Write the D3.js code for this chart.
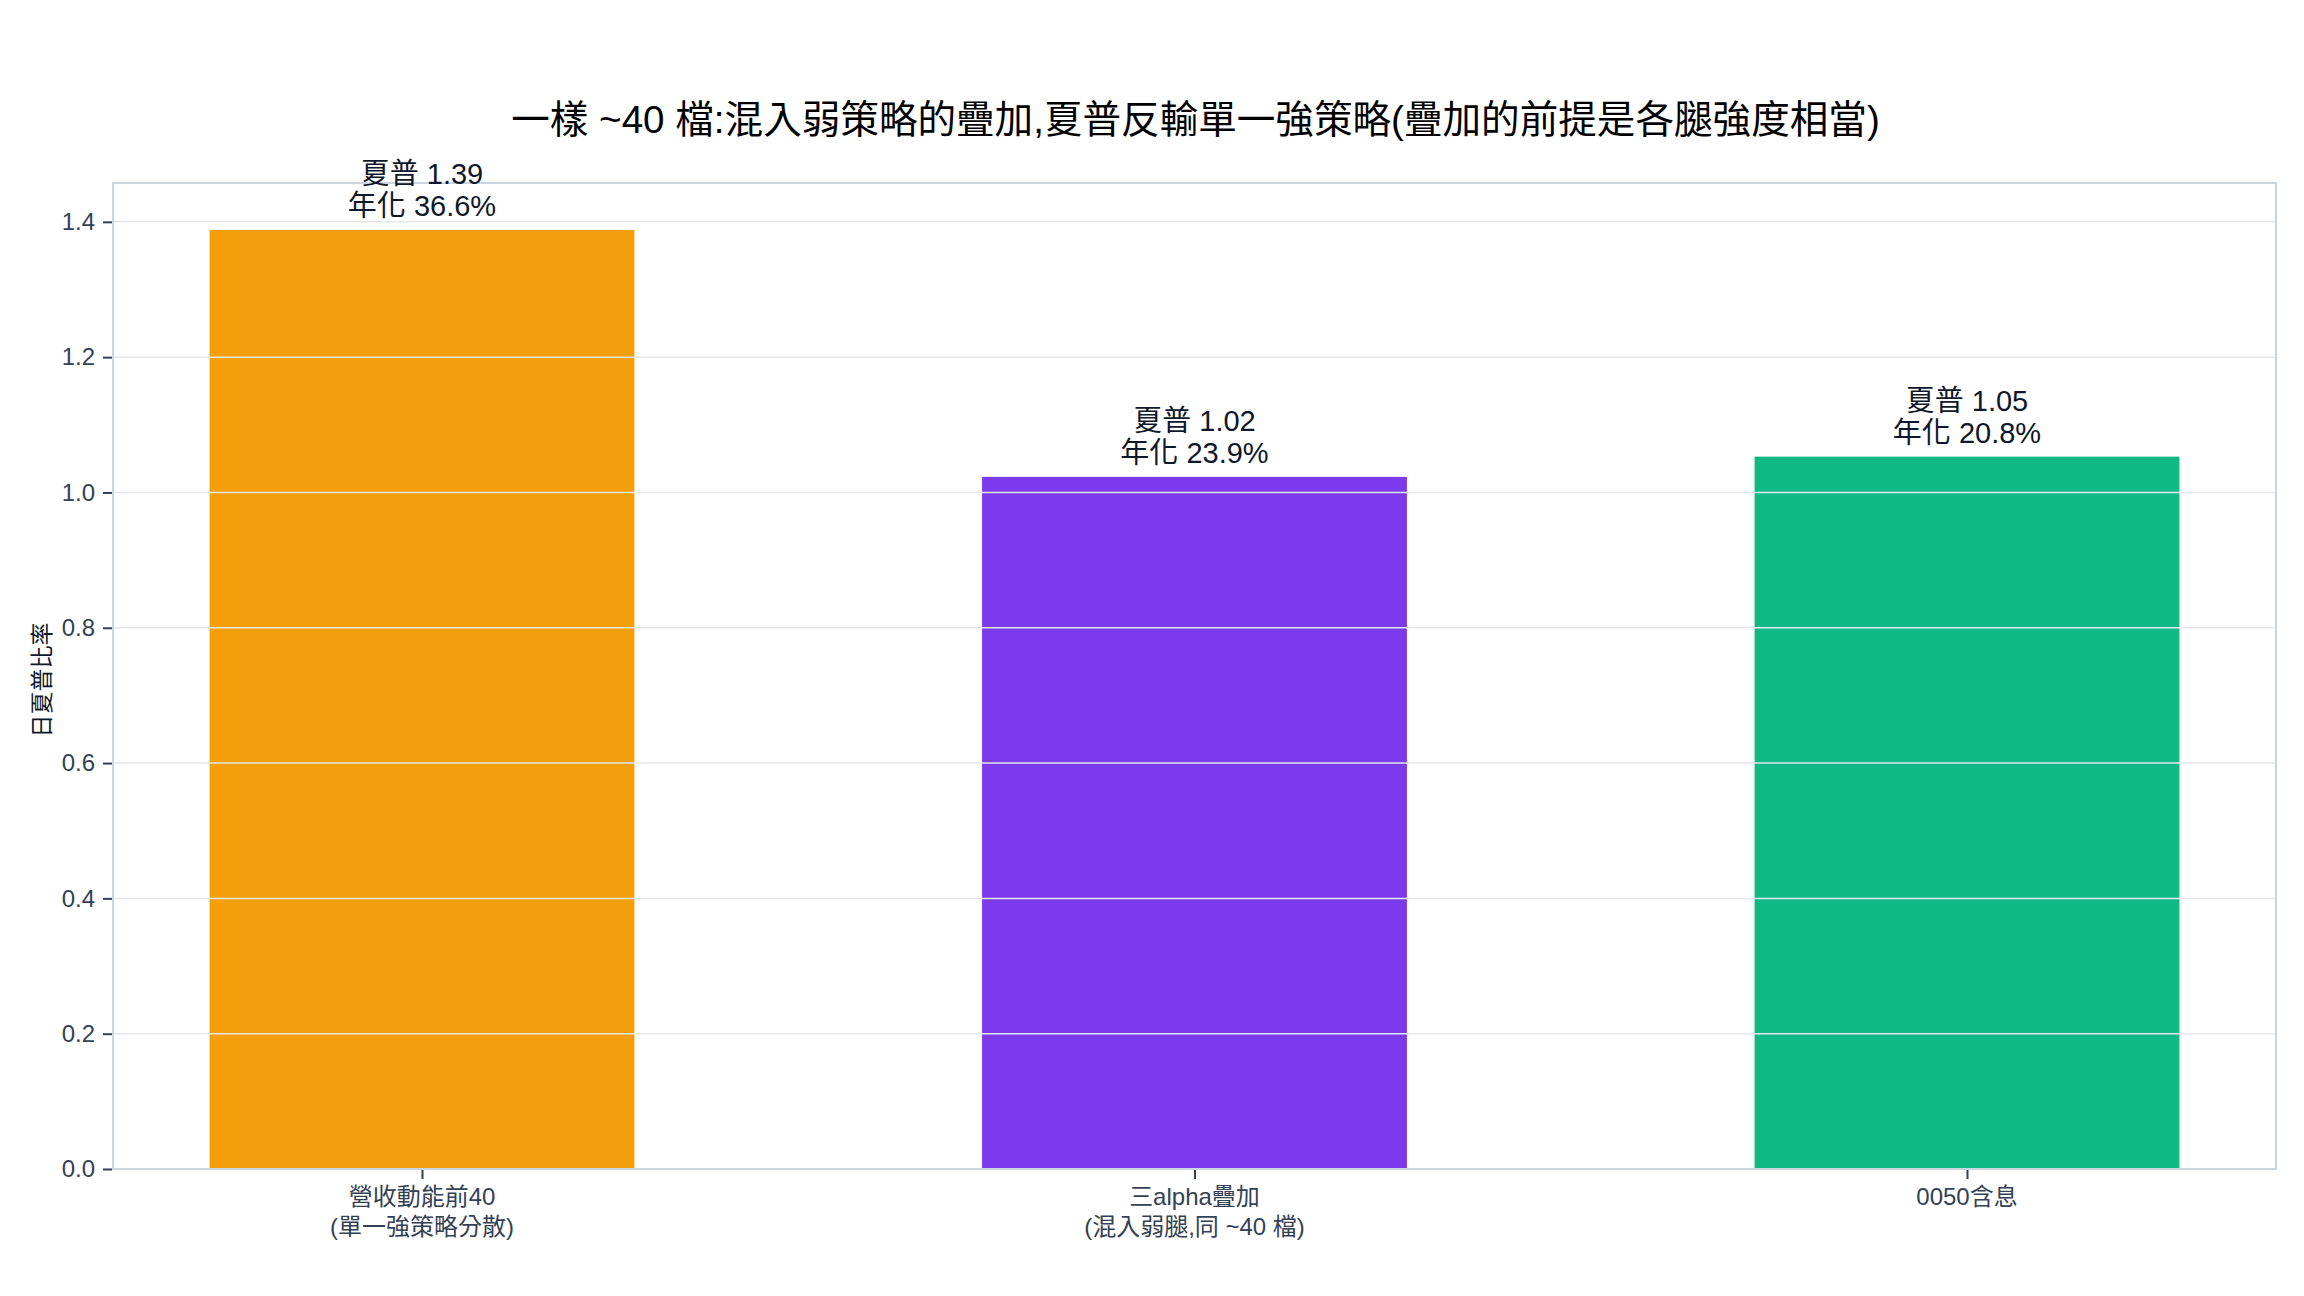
<!DOCTYPE html>
<html>
<head>
<meta charset="utf-8">
<script src="https://cdn.jsdelivr.net/npm/d3@7"></script>
<style>
  body { margin: 0; background: #fff; }
  text { font-family: "Liberation Sans", Arial, "Noto Sans CJK TC", sans-serif; }
</style>
</head>
<body>
<script>
// data
var labelLine1 = ["營收動能前40", "三alpha疊加", "0050含息"];
var labelLine2 = ["(單一強策略分散)", "(混入弱腿,同 ~40 檔)", ""];
var sharpe = [1.388, 1.023, 1.053];
var annual = [36.6, 23.9, 20.8];
var colors = ["#f59e0b", "#7c3aed", "#10b981"];
var yTicks = [0.0, 0.2, 0.4, 0.6, 0.8, 1.0, 1.2, 1.4];
var titleText = "一樣 ~40 檔:混入弱策略的疊加,夏普反輸單一強策略(疊加的前提是各腿強度相當)";
var yLabel = "日夏普比率";

var W = 2304, H = 1296;
var plotL = 113, plotR = 2276, plotT = 183, plotB = 1169;

var svg = d3.select("body").append("svg")
  .attr("width", W).attr("height", H);

var x = d3.scaleLinear().domain([-0.4, 2.4]).range([plotL, plotR]);
var y = d3.scaleLinear().domain([0, d3.max(sharpe) * 1.05]).range([plotB, plotT]);
var barW = 0.55;

var data = sharpe.map(function(v, i){ return {i: i, v: v, a: annual[i]}; });

// bars
svg.append("g").selectAll("rect")
  .data(data)
  .enter().append("rect")
  .attr("x", function(d){ return x(d.i - barW/2); })
  .attr("width", function(d){ return x(barW) - x(0); })
  .attr("y", function(d){ return y(d.v); })
  .attr("height", function(d){ return y(0) - y(d.v); })
  .attr("fill", function(d){ return colors[d.i]; });

// grid on top of bars
svg.append("g").selectAll("line")
  .data(yTicks)
  .enter().append("line")
  .attr("x1", plotL).attr("x2", plotR)
  .attr("y1", function(d){ return y(d); })
  .attr("y2", function(d){ return y(d); })
  .attr("stroke", "#e5e7eb")
  .attr("stroke-width", 1.5);

// frame
svg.append("rect")
  .attr("x", plotL).attr("y", plotT)
  .attr("width", plotR - plotL).attr("height", plotB - plotT)
  .attr("fill", "none")
  .attr("stroke", "#cbd5e1")
  .attr("stroke-width", 2);

// y axis
var yAxis = d3.axisLeft(y).tickValues(yTicks).tickFormat(d3.format(".1f"))
  .tickSize(9).tickPadding(8);
var gy = svg.append("g").attr("transform", "translate(" + (plotL - 1) + ",0)").call(yAxis);
gy.select(".domain").remove();
gy.selectAll(".tick line").attr("stroke", "#334155").attr("stroke-width", 2);
gy.selectAll(".tick text").attr("fill", "#334155").style("font-size", "24px");

// x axis
var xAxis = d3.axisBottom(x).tickValues([0, 1, 2]).tickFormat("").tickSize(9);
var gx = svg.append("g").attr("transform", "translate(0," + (plotB + 1) + ")").call(xAxis);
gx.select(".domain").remove();
gx.selectAll(".tick line").attr("stroke", "#334155").attr("stroke-width", 2);

var xl = svg.append("g").selectAll("text")
  .data(data)
  .enter().append("text")
  .attr("text-anchor", "middle")
  .attr("fill", "#334155")
  .style("font-size", "24px");
xl.append("tspan")
  .attr("x", function(d){ return x(d.i); })
  .attr("y", 1205)
  .text(function(d){ return labelLine1[d.i]; });
xl.append("tspan")
  .attr("x", function(d){ return x(d.i); })
  .attr("y", 1235)
  .text(function(d){ return labelLine2[d.i]; });

// value annotations
var ann = svg.append("g").selectAll("text")
  .data(data)
  .enter().append("text")
  .attr("text-anchor", "middle")
  .attr("fill", "#0f172a")
  .style("font-size", "29px");
ann.append("tspan")
  .attr("x", function(d){ return x(d.i); })
  .attr("y", function(d){ return y(d.v) - 46; })
  .text(function(d){ return "夏普 " + d.v.toFixed(2); });
ann.append("tspan")
  .attr("x", function(d){ return x(d.i); })
  .attr("y", function(d){ return y(d.v) - 14; })
  .text(function(d){ return "年化 " + d.a.toFixed(1) + "%"; });

// y label
svg.append("text")
  .attr("transform", "translate(50," + ((plotT + plotB) / 2 + 4) + ") rotate(-90)")
  .attr("text-anchor", "middle")
  .attr("fill", "#0f172a")
  .style("font-size", "23px")
  .text(yLabel);

// title
svg.append("text")
  .attr("x", (plotL + plotR) / 2 + 1)
  .attr("y", 133)
  .attr("text-anchor", "middle")
  .attr("fill", "#000")
  .style("font-size", "38.6px")
  .text(titleText);
</script>
</body>
</html>
